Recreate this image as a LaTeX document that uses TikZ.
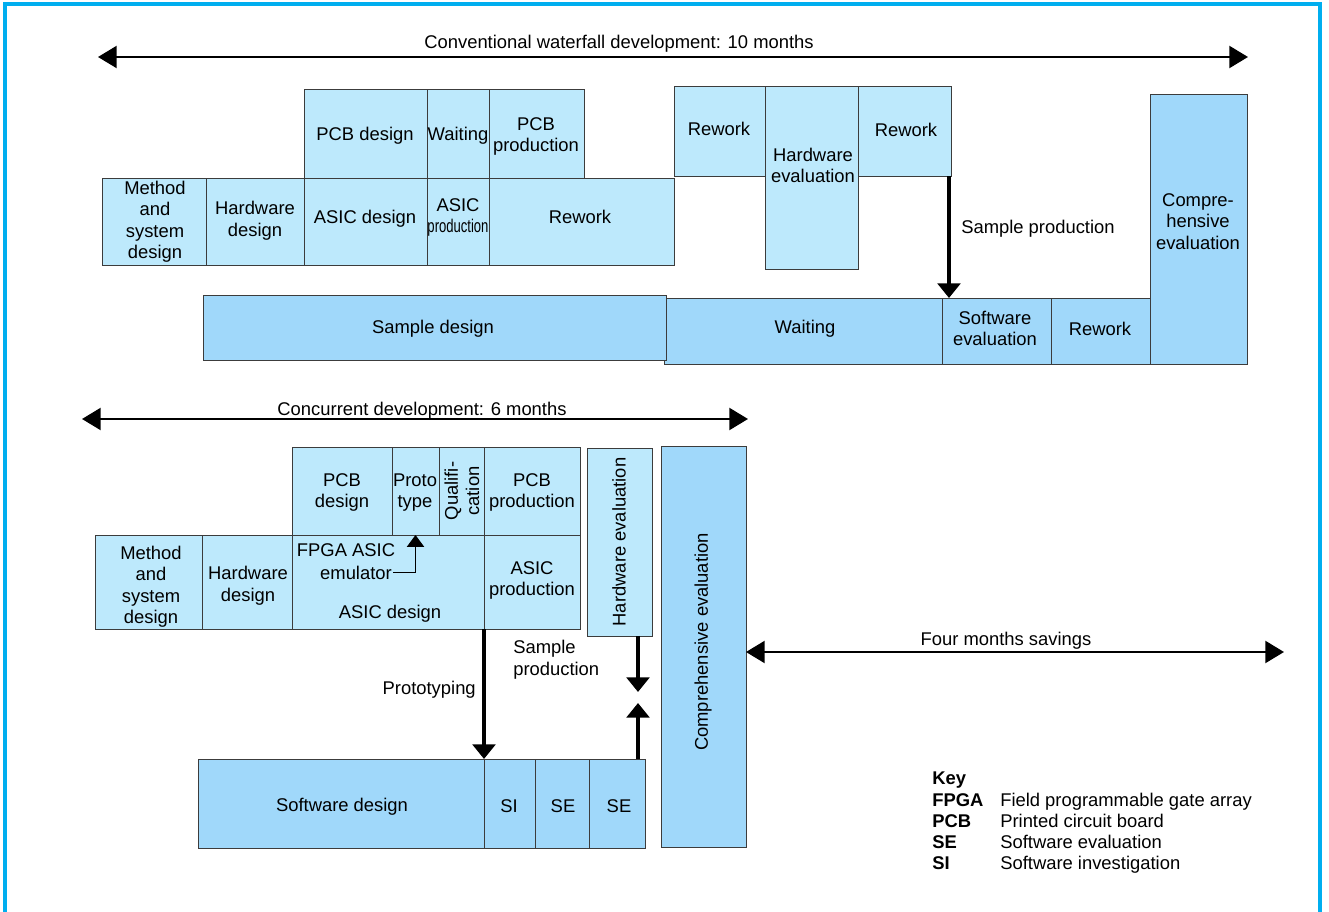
\documentclass[tikz,border=0pt]{standalone}
\usepackage{fontspec}
\setmainfont{Liberation Sans}
\usetikzlibrary{arrows.meta}

\definecolor{hwfill}{RGB}{189,233,252}
\definecolor{swfill}{RGB}{160,216,250}
\definecolor{framecol}{RGB}{0,174,239}
\definecolor{edgecol}{RGB}{60,60,60}

% block: name, x1, y1, x2, y2, style (pixel grid, y downwards)
\newcommand{\blk}[6]{%
  \node[#6, minimum width={(#4-#2)*0.75pt}, minimum height={(#5-#3)*0.75pt}]
    (#1) at ({(#2+#4)/2},{(#3+#5)/2}) {};}

\tikzset{
  box/.style={draw=edgecol, line width=0.7pt, inner sep=0pt, outer sep=0pt},
  hw/.style={box, fill=hwfill},
  sw/.style={box, fill=swfill},
  lbl/.style={font=\fontsize{13.8}{16}\selectfont, align=center, inner sep=0pt, yshift=-1.2pt},
  vlbl/.style={font=\fontsize{13.8}{16}\selectfont, align=center, inner sep=0pt, rotate=90},
  keyhead/.style={font=\fontsize{13.8}{16}\selectfont\bfseries, inner sep=0pt, anchor=base west},
  keytext/.style={font=\fontsize{13.8}{16}\selectfont, inner sep=0pt, anchor=base west},
  span/.style={line width=1.6pt,
    {Triangle[length=14pt,width=16.5pt]}-{Triangle[length=14pt,width=16.5pt]}},
  flow/.style={line width=3.4pt, -{Triangle[length=11pt,width=17pt]}},
  feed/.style={line width=1.1pt, -{Triangle[length=9pt,width=13pt]}},
}

\begin{document}
\begin{tikzpicture}[x=0.75pt, y=-0.75pt]
\useasboundingbox (0,0) rectangle (1329,912);

% frame
\draw[framecol, line width=2.3pt] (5,912) -- (5,4) -- (1320,4) -- (1320,912);

% ---------------- conventional waterfall ----------------
\coordinate (wfL) at (98,57);
\coordinate (wfR) at (1248,57);
\draw[span] (wfL) -- (wfR);
\node[lbl] (wfLab) at (619,42) {Conventional waterfall development: 10 months};

\blk{tMeth}{102}{178}{206}{265}{hw}
\blk{tHwd}{206}{178}{304}{265}{hw}
\blk{tPcbd}{304}{89}{427}{178}{hw}
\blk{tAsicd}{304}{178}{427}{265}{hw}
\blk{tWait}{427}{89}{489}{178}{hw}
\blk{tPcbp}{489}{89}{584}{178}{hw}
\blk{tAsicp}{427}{178}{489}{265}{hw}
\blk{tRew}{489}{178}{674}{265}{hw}
\blk{tRewA}{674}{86}{765}{176}{hw}
\blk{tHwe}{765}{86}{858}{269}{hw}
\blk{tRewB}{858}{86}{951}{176}{hw}
\blk{tWaitB}{664}{298}{942}{364}{sw}
\blk{tSamp}{203}{295}{666}{360}{sw}
\blk{tSwe}{942}{298}{1051}{364}{sw}
\blk{tRewC}{1051}{298}{1150}{364}{sw}
\blk{tComp}{1150}{94}{1247}{364}{sw}

\node[lbl] (tMethL) at (155,220) {Method\\and\\system\\design};
\node[lbl] (tHwdL) at (255,219) {Hardware\\design};
\node[lbl] (tPcbdL) at (365,134) {PCB design};
\node[lbl] (tAsicdL) at (365,217) {ASIC design};
\node[lbl] (tWaitL) at (458,134) {Waiting};
\node[lbl] (tPcbpL) at (536,135) {PCB\\production};
\node[lbl] (tAsicpL) at (458,216) {ASIC\\\scalebox{0.71}[1]{production}};
\node[lbl] (tRewL) at (580,215) {Rework};
\node[lbl] (tRewAL) at (719,127) {Rework};
\node[lbl] (tHweL) at (813,164) {Hardware\\evaluation};
\node[lbl] (tRewBL) at (906,128) {Rework};
\node[lbl] (tCompL) at (1198,220) {Compre-\\hensive\\evaluation};
\node[lbl] (tSampL) at (433,327) {Sample design};
\node[lbl] (tWaitBL) at (805,327) {Waiting};
\node[lbl] (tSweL) at (995,327) {Software\\evaluation};
\node[lbl] (tRewCL) at (1100,327) {Rework};

\coordinate (spTop) at ([xshift=-1.5pt]tRewB.south east);
\draw[flow] (spTop) -- (spTop |- tSwe.north);
\node[lbl, anchor=west] (spLab) at (961,227) {Sample production};

% ---------------- concurrent development ----------------
\coordinate (ccL) at (82,419);
\coordinate (ccR) at (748,419);
\draw[span] (ccL) -- (ccR);
\node[lbl] (ccLab) at (422,409) {Concurrent development: 6 months};

\blk{cMeth}{95}{535}{202}{629}{hw}
\blk{cHwd}{202}{535}{292}{629}{hw}
\blk{cAsicd}{292}{535}{484}{629}{hw}
\blk{cAsicp}{484}{535}{580}{629}{hw}
\blk{cPcbd}{292}{447}{392}{535}{hw}
\blk{cProto}{392}{447}{439}{535}{hw}
\blk{cQual}{439}{447}{484}{535}{hw}
\blk{cPcbp}{484}{447}{580}{535}{hw}
\blk{cHwe}{587}{448}{652}{636}{hw}
\blk{cComp}{661}{446}{746}{847}{sw}
\blk{cSwd}{198}{759}{484}{848}{sw}
\blk{cSI}{484}{759}{535}{848}{sw}
\blk{cSE}{535}{759}{589}{848}{sw}
\blk{cSEb}{589}{759}{645}{848}{sw}

\node[lbl] (cMethL) at (151,585) {Method\\and\\system\\design};
\node[lbl] (cHwdL) at (248,584) {Hardware\\design};
\node[lbl] (cFpga) at (346,549) {FPGA ASIC};
\node[lbl] (cEmu) at (356,571) {emulator};
\node[lbl] (cAsicdL) at (390,612) {ASIC design};
\node[lbl] (cAsicpL) at (532,579) {ASIC\\production};
\node[lbl] (cPcbdL) at (342,491) {PCB\\design};
\node[lbl] (cProtoL) at (415,491) {Proto\\type};
\node[vlbl] (cQualL) at (462,491) {Qualifi-\\cation};
\node[lbl] (cPcbpL) at (532,491) {PCB\\production};
\node[vlbl] (cHweL) at (619,542) {Hardware evaluation};
\node[vlbl] (cCompL) at (703,642) {Comprehensive evaluation};
\node[lbl] (cSwdL) at (342,805) {Software design};
\node[lbl] (cSIL) at (509,805) {SI};
\node[lbl] (cSEL) at (563,805) {SE};
\node[lbl] (cSEbL) at (619,805) {SE};

\draw[feed] ([xshift=1pt]cEmu.east) -| (cProto.south);

\draw[flow] (cAsicd.south east) -- (cSwd.north east);
\node[lbl, anchor=east] (protoLab) at (476,688) {Prototyping};
\node[lbl, align=left, anchor=west] (sampLab) at (513,658) {Sample\\production};

\coordinate (meetA) at (638,692);
\coordinate (meetB) at (638,703);
\draw[flow] (meetA |- cHwe.south) -- (meetA);
\draw[flow] (meetB |- cSEb.north) -- (meetB);

\coordinate (fmR) at (1284,652);
\draw[span] (fmR -| cComp.east) -- (fmR);
\node[lbl] (fmLab) at (1006,639) {Four months savings};

% ---------------- key ----------------
\node[keyhead] (kKey) at (932,784) {Key};
\node[keyhead] (kA) at (932,806) {FPGA};
\node[keyhead] (kB) at (932,827) {PCB};
\node[keyhead] (kC) at (932,848) {SE};
\node[keyhead] (kD) at (932,869) {SI};
\node[keytext] (kAt) at (1000,806) {Field programmable gate array};
\node[keytext] (kBt) at (1000,827) {Printed circuit board};
\node[keytext] (kCt) at (1000,848) {Software evaluation};
\node[keytext] (kDt) at (1000,869) {Software investigation};
\end{tikzpicture}
\end{document}
